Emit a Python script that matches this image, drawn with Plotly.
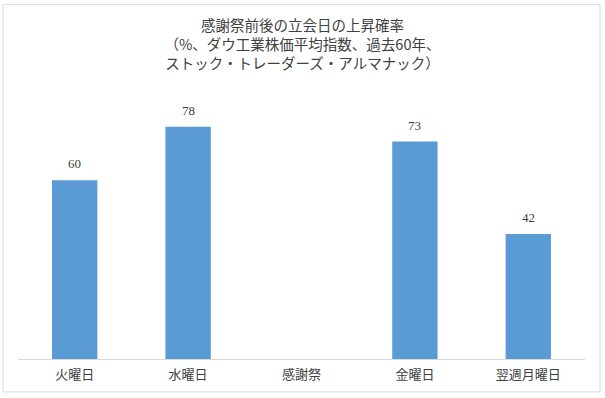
import plotly.graph_objects as go

categories = ["火曜日", "水曜日", "感謝祭", "金曜日", "翌週月曜日"]
values = [60, 78, None, 73, 42]
title_lines = [
    "感謝祭前後の立会日の上昇確率",
    "（%、ダウ工業株価平均指数、過去60年、",
    "ストック・トレーダーズ・アルマナック）",
]

W, H = 605, 398
L, R, T, B = 18, 20, 90.5, 39
pw, ph = W - L - R, H - T - B

fig = go.Figure()
fig.add_trace(go.Bar(
    x=categories, y=values,
    marker=dict(color="#5B9BD5", line=dict(width=0)),
    width=0.4,
    hoverinfo="x+y",
))

for c, v in zip(categories, values):
    if v is None:
        continue
    fig.add_annotation(
        x=c, y=v, text=str(v), showarrow=False,
        yanchor="bottom", yshift=7,
        font=dict(family="Liberation Serif, serif", size=13, color="#404040"),
    )

def px2x(p):
    return (p - L) / pw

def py2y(p):
    return (H - B - p) / ph

fig.add_shape(type="rect", xref="paper", yref="paper",
              x0=px2x(3), x1=px2x(600), y0=py2y(392), y1=py2y(4),
              line=dict(color="#D9D9D9", width=1), fillcolor="rgba(0,0,0,0)")

fig.update_layout(
    width=W, height=H,
    margin=dict(l=L, r=R, t=T, b=B, pad=0),
    paper_bgcolor="white", plot_bgcolor="white",
    showlegend=False,
    bargap=0.6,
    title=dict(
        text="<br>".join(title_lines),
        x=0.5, xanchor="center", xref="container",
        y=1 - 31 / H, yanchor="top", yref="container",
        font=dict(family="Noto Sans CJK JP", size=14.5, color="#404040"),
    ),
    xaxis=dict(
        type="category", showgrid=False, showline=True,
        linecolor="#D9D9D9", linewidth=1, ticks="",
        ticklabelstandoff=3,
        tickfont=dict(family="Noto Sans CJK JP", size=13, color="#404040"),
        zeroline=False,
    ),
    yaxis=dict(range=[0, 90], visible=False, showgrid=False, zeroline=False),
)

fig.write_html("out.html", config={"displayModeBar": False},
               post_script="document.body.style.margin='0';")
